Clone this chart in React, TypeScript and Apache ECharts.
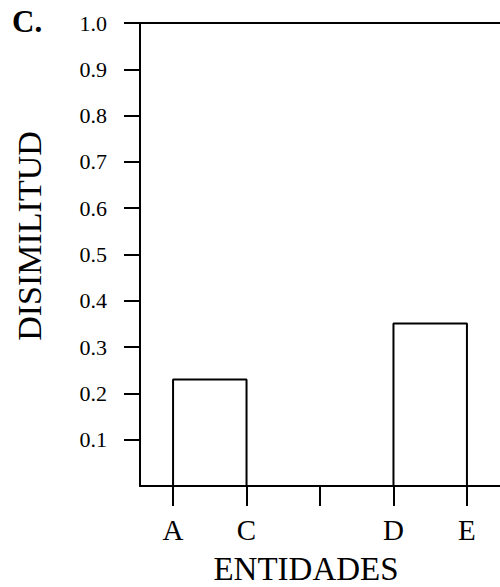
import React, { useEffect, useRef } from "react";
import * as echarts from "echarts";

const positions = [1, 2, 3, 4, 5];
const tickLabels = ["A", "C", "", "D", "E"];
const clusterAC = [[1, 0], [1, 0.23], [2, 0.23], [2, 0]];
const clusterDE = [[4, 0], [4, 0.351], [5, 0.351], [5, 0]];
const yTicks = [0.1, 0.2, 0.3, 0.4, 0.5, 0.6, 0.7, 0.8, 0.9, 1.0];

const FONT = '"Liberation Serif", "Times New Roman", serif';

export default function App() {
  const ref = useRef<HTMLDivElement>(null);
  useEffect(() => {
    if (!ref.current) return;
    const chart = echarts.init(ref.current, null, { renderer: "svg" });
    const lineStyle = { color: "#000", width: 2 };
    chart.setOption({
      animation: false,
      grid: { left: 140, right: 0, top: 23, bottom: 101, containLabel: false },
      xAxis: [
        {
          type: "value",
          min: 0.55,
          max: 5.45,
          position: "bottom",
          splitLine: { show: false },
          axisLine: { show: true, onZero: false, lineStyle },
          axisTick: {
            show: true,
            customValues: positions,
            length: 20,
            lineStyle,
          },
          axisLabel: {
            show: true,
            customValues: positions,
            formatter: (v: number) => tickLabels[positions.indexOf(Math.round(v))] ?? "",
            margin: 29,
            color: "#000",
            fontSize: 29,
            fontFamily: FONT,
          },
        },
        {
          type: "value",
          min: 0.55,
          max: 5.45,
          position: "top",
          splitLine: { show: false },
          axisLine: { show: true, onZero: false, lineStyle },
          axisTick: { show: false },
          axisLabel: { show: false },
        },
      ],
      yAxis: {
        type: "value",
        min: 0,
        max: 1,
        splitLine: { show: false },
        axisLine: { show: true, onZero: false, lineStyle },
        axisTick: { show: true, customValues: yTicks, length: 16, lineStyle },
        axisLabel: {
          show: true,
          customValues: yTicks,
          formatter: (v: number) => v.toFixed(1),
          margin: 33,
          color: "#000",
          fontSize: 22,
          fontFamily: FONT,
          padding: [0, 0, 6, 0],
        },
      },
      graphic: [
        {
          type: "text",
          left: 12,
          top: 6,
          style: { text: "C.", fill: "#000", font: `bold 31px ${FONT}` },
        },
        {
          type: "text",
          x: 29,
          y: 236,
          rotation: Math.PI / 2,
          style: {
            text: "DISIMILITUD",
            fill: "#000",
            font: `34px ${FONT}`,
            lineHeight: 30,
            align: "center",
            verticalAlign: "middle",
          },
        },
        {
          type: "text",
          x: 306,
          y: 569,
          style: {
            text: "ENTIDADES",
            fill: "#000",
            font: `33px ${FONT}`,
            lineHeight: 30,
            align: "center",
            verticalAlign: "middle",
          },
        },
      ],
      series: [
        {
          type: "line",
          data: clusterAC,
          showSymbol: false,
          symbol: "none",
          lineStyle: { color: "#000", width: 2 },
          silent: true,
        },
        {
          type: "line",
          data: clusterDE,
          showSymbol: false,
          symbol: "none",
          lineStyle: { color: "#000", width: 2 },
          silent: true,
        },
      ],
    });
    return () => chart.dispose();
  }, []);
  return <div ref={ref} style={{ width: 500, height: 587, position: "absolute", left: 0, top: 0 }} />;
}
